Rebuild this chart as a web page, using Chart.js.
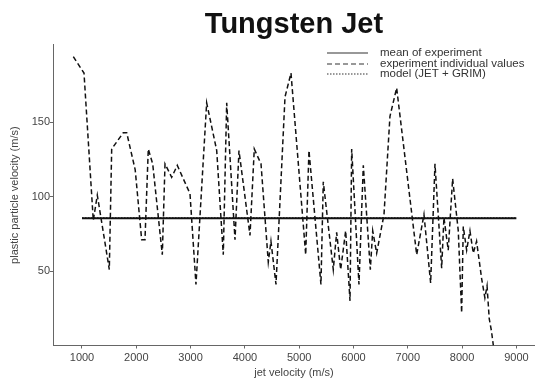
<!DOCTYPE html>
<html>
<head>
<meta charset="utf-8">
<script src="https://cdn.jsdelivr.net/npm/chart.js@4.4.1/dist/chart.umd.min.js"></script>
<style>
  body { margin: 0; background: #fff; }
  canvas { display: block; }
</style>
</head>
<body>
<canvas id="chart" width="535" height="380"></canvas>
<script>
// values
const jetVelocity = [840, 1037, 1208, 1282, 1503, 1547, 1761, 1823, 1980, 2099, 2160, 2221, 2302, 2479, 2529, 2652, 2755, 2989, 3099, 3296, 3481, 3602, 3665, 3818, 3891, 4094, 4173, 4297, 4431, 4480, 4573, 4739, 4849, 5120, 5180, 5401, 5444, 5628, 5690, 5764, 5856, 5936, 5967, 6101, 6181, 6310, 6354, 6427, 6562, 6672, 6795, 7164, 7298, 7421, 7501, 7624, 7666, 7745, 7826, 7930, 7992, 8022, 8084, 8145, 8206, 8267, 8360, 8420, 8460, 8500, 8540, 8576];
const particleVelocity = [194, 183, 84, 101, 51, 132, 143, 143, 118, 71, 71, 132, 122, 61, 122, 113, 121, 102, 41, 163, 131, 61, 163, 71, 131, 74, 132, 122, 56, 70, 41, 167, 183, 61, 131, 41, 110, 51, 76, 51, 77, 30, 132, 41, 121, 51, 77, 62, 88, 154, 173, 61, 88, 42, 122, 52, 86, 64, 112, 77, 22, 80, 64, 77, 62, 70, 45, 32, 40, 18, 10, 0];

const meanX = [1000, 9000];
const meanY = [85.5, 85.5];
const modelX = [1000, 9000];
const modelY = [86, 86];

const xTicks = [1000, 2000, 3000, 4000, 5000, 6000, 7000, 8000, 9000];
const yTicks = [50, 100, 150];

const toPoints = (xs, ys) => xs.map((x, i) => ({ x: x, y: ys[i] }));

const fontFamily = '"Liberation Sans", Arial, Helvetica, sans-serif';

// legend drawn in the upper right corner of the plot, like the original
const legendInPlot = {
    id: 'legendInPlot',
    afterDraw(chart) {
        const ctx = chart.ctx;
        const rows = [53, 64, 74];
        ctx.save();
        ctx.font = '11.5px ' + fontFamily;
        ctx.textBaseline = 'middle';
        ctx.fillStyle = '#333';
        chart.data.datasets.forEach((ds, i) => {
            const y = rows[i];
            ctx.beginPath();
            ctx.setLineDash(ds.borderDash || []);
            ctx.lineWidth = 1.2;
            ctx.strokeStyle = '#333';
            ctx.moveTo(327, y);
            ctx.lineTo(368, y);
            ctx.stroke();
            ctx.setLineDash([]);
            ctx.fillText(ds.label, 380, y);
        });
        ctx.restore();
    }
};

new Chart(document.getElementById('chart'), {
    type: 'line',
    data: {
        datasets: [
            {
                label: 'mean of experiment',
                data: toPoints(meanX, meanY),
                borderColor: '#111',
                borderWidth: 2,
                borderDash: [],
                pointRadius: 0
            },
            {
                label: 'experiment individual values',
                data: toPoints(jetVelocity, particleVelocity),
                borderColor: '#111',
                borderWidth: 1.5,
                borderDash: [5, 3],
                pointRadius: 0,
                tension: 0
            },
            {
                label: 'model (JET + GRIM)',
                data: toPoints(modelX, modelY),
                borderColor: '#666',
                borderWidth: 1.2,
                borderDash: [1.5, 1.5],
                pointRadius: 0
            }
        ]
    },
    options: {
        responsive: false,
        animation: false,
        layout: { padding: 0 },
        plugins: {
            legend: { display: false },
            tooltip: { enabled: false },
            title: {
                display: true,
                text: 'Tungsten Jet',
                fullSize: false,
                color: '#111',
                font: { family: fontFamily, size: 29, weight: 'bold' },
                padding: { top: 8, bottom: 2 }
            }
        },
        scales: {
            x: {
                type: 'linear',
                min: 466,
                max: 9343,
                afterBuildTicks: (scale) => { scale.ticks = xTicks.map(v => ({ value: v })); },
                afterFit: (scale) => { scale.height = 34.5; },
                grid: { drawOnChartArea: false, drawTicks: true, tickLength: 3, color: '#666' },
                border: { display: true, color: '#666', width: 1, dash: [1, 1] },
                ticks: {
                    color: '#444',
                    padding: 3,
                    maxRotation: 0,
                    font: { family: fontFamily, size: 11 },
                    callback: (value) => String(value)
                },
                title: {
                    display: true,
                    text: 'jet velocity (m/s)',
                    color: '#444',
                    padding: { top: 0, bottom: 0 },
                    font: { family: fontFamily, size: 11 }
                }
            },
            y: {
                type: 'linear',
                min: 0,
                max: 202,
                afterBuildTicks: (scale) => { scale.ticks = yTicks.map(v => ({ value: v })); },
                afterFit: (scale) => { scale.width = 53; },
                grid: { drawOnChartArea: false, drawTicks: true, tickLength: 3, color: '#666' },
                border: { display: true, color: '#666', width: 1, dash: [1, 1] },
                ticks: {
                    color: '#444',
                    padding: 0,
                    font: { family: fontFamily, size: 11 },
                    callback: (value) => String(value)
                },
                title: {
                    display: true,
                    text: 'plastic particle velocity (m/s)',
                    color: '#444',
                    padding: { top: 8, bottom: 0 },
                    font: { family: fontFamily, size: 11 }
                }
            }
        }
    },
    plugins: [legendInPlot]
});
</script>
</body>
</html>
